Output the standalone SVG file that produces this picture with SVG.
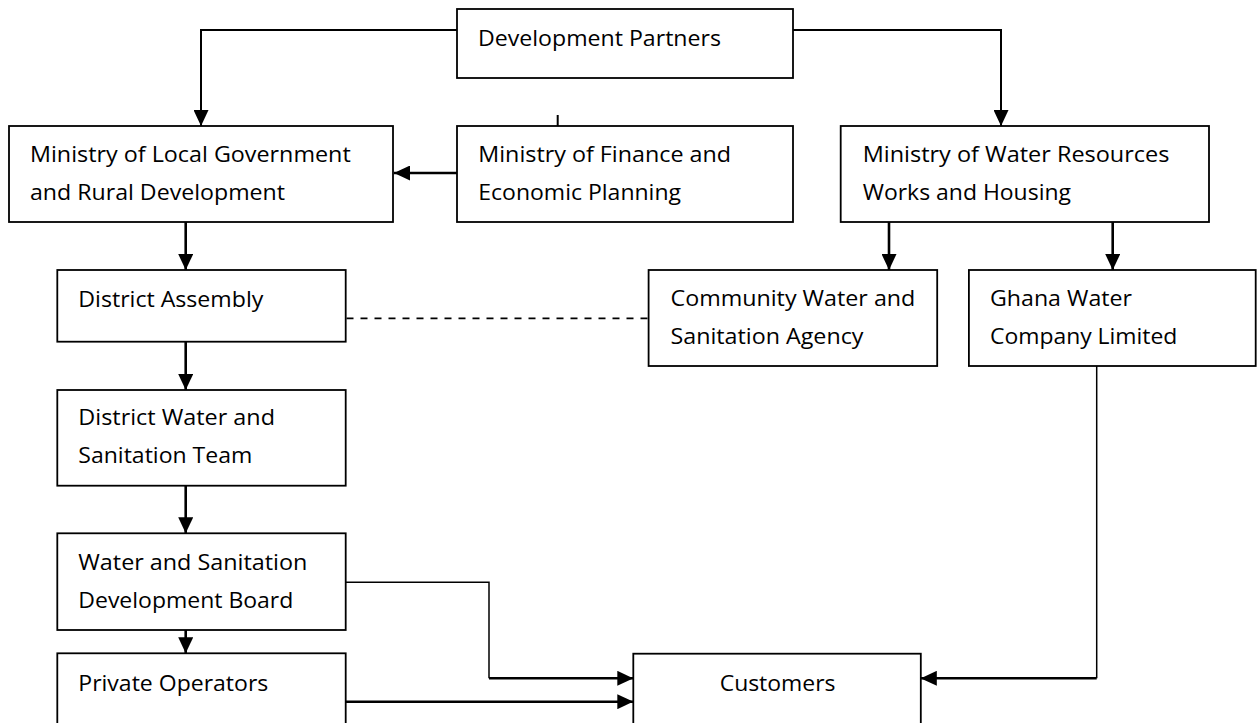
<svg xmlns="http://www.w3.org/2000/svg" width="1257" height="723" viewBox="0 0 1257 723">
  <style>
    .box { fill: #ffffff; stroke: #000000; stroke-width: 1.8; }
    .lbl { font-family: "Open Sans", "Liberation Sans", sans-serif; font-size: 21.5px; fill: #000000; }
    .wire { fill: none; stroke: #000000; stroke-width: 2; }
    .thin { fill: none; stroke: #000000; stroke-width: 1.5; }
    .heavy { fill: none; stroke: #000000; stroke-width: 2.6; }
    .dash { fill: none; stroke: #000000; stroke-width: 1.8; stroke-dasharray: 7 7; }
  </style>
  <defs>
    <marker id="arrow" markerUnits="userSpaceOnUse" markerWidth="16" markerHeight="15" refX="16" refY="7.5" orient="auto">
      <path d="M0,0 L16,7.5 L0,15 z" fill="#000000"/>
    </marker>
  </defs>
  <rect width="1257" height="723" fill="#ffffff"/>

  <!-- connectors -->
  <g id="connectors">
    <path class="wire" d="M457,30 H201 V126" marker-end="url(#arrow)"/>
    <path class="wire" d="M793,30 H1001 V126" marker-end="url(#arrow)"/>
    <path class="wire" d="M557.7,115 V126"/>
    <path class="heavy" d="M457,173 H394" marker-end="url(#arrow)"/>
    <path class="heavy" d="M185.7,222 V270" marker-end="url(#arrow)"/>
    <path class="heavy" d="M889,222 V270" marker-end="url(#arrow)"/>
    <path class="heavy" d="M1112.7,222 V270" marker-end="url(#arrow)"/>
    <path class="dash" d="M346.5,318.3 H649"/>
    <path class="heavy" d="M185.7,341.7 V390" marker-end="url(#arrow)"/>
    <path class="heavy" d="M185.7,485.7 V533.3" marker-end="url(#arrow)"/>
    <path class="heavy" d="M185.7,630 V653.3" marker-end="url(#arrow)"/>
    <path class="thin" d="M345.7,582.3 H489 V678.3"/>
    <path class="heavy" d="M489,678.3 H633.3" marker-end="url(#arrow)"/>
    <path class="heavy" d="M345.7,701.7 H633.3" marker-end="url(#arrow)"/>
    <path class="thin" d="M1096.7,366 V678.3"/>
    <path class="heavy" d="M1096.7,678.3 H920.8" marker-end="url(#arrow)"/>
  </g>

  <!-- nodes -->
  <g id="development-partners">
    <rect class="box" x="457" y="9" width="336" height="69"/>
    <text class="lbl" x="478" y="45.7" textLength="243" lengthAdjust="spacingAndGlyphs">Development Partners</text>
  </g>
  <g id="ministry-local-government">
    <rect class="box" x="9" y="126" width="384" height="96"/>
    <text class="lbl" x="30" y="161.7" textLength="320.7" lengthAdjust="spacingAndGlyphs">Ministry of Local Government</text>
    <text class="lbl" x="30" y="200" textLength="255" lengthAdjust="spacingAndGlyphs">and Rural Development</text>
  </g>
  <g id="ministry-finance">
    <rect class="box" x="457" y="126" width="336" height="96"/>
    <text class="lbl" x="478.3" y="161.7" textLength="252.7" lengthAdjust="spacingAndGlyphs">Ministry of Finance and</text>
    <text class="lbl" x="478.3" y="200" textLength="202.7" lengthAdjust="spacingAndGlyphs">Economic Planning</text>
  </g>
  <g id="ministry-water-resources">
    <rect class="box" x="840.7" y="126" width="368.3" height="96"/>
    <text class="lbl" x="862.7" y="161.7" textLength="306.7" lengthAdjust="spacingAndGlyphs">Ministry of Water Resources</text>
    <text class="lbl" x="862.7" y="200" textLength="208.3" lengthAdjust="spacingAndGlyphs">Works and Housing</text>
  </g>
  <g id="district-assembly">
    <rect class="box" x="57.3" y="270" width="288.4" height="71.7"/>
    <text class="lbl" x="78.3" y="306.7" textLength="185" lengthAdjust="spacingAndGlyphs">District Assembly</text>
  </g>
  <g id="community-water-sanitation-agency">
    <rect class="box" x="648.6" y="270" width="288.6" height="96"/>
    <text class="lbl" x="670.5" y="305.7" textLength="244.8" lengthAdjust="spacingAndGlyphs">Community Water and</text>
    <text class="lbl" x="670.5" y="344" textLength="193" lengthAdjust="spacingAndGlyphs">Sanitation Agency</text>
  </g>
  <g id="ghana-water-company">
    <rect class="box" x="968.9" y="270" width="286.8" height="96"/>
    <text class="lbl" x="990" y="305.7" textLength="142" lengthAdjust="spacingAndGlyphs">Ghana Water</text>
    <text class="lbl" x="990" y="344" textLength="187.4" lengthAdjust="spacingAndGlyphs">Company Limited</text>
  </g>
  <g id="district-water-sanitation-team">
    <rect class="box" x="57.3" y="390" width="288.4" height="95.7"/>
    <text class="lbl" x="78.3" y="425" textLength="196.7" lengthAdjust="spacingAndGlyphs">District Water and</text>
    <text class="lbl" x="78.3" y="462.7" textLength="174" lengthAdjust="spacingAndGlyphs">Sanitation Team</text>
  </g>
  <g id="water-sanitation-board">
    <rect class="box" x="57.3" y="533.3" width="288.4" height="96.7"/>
    <text class="lbl" x="78.3" y="570" textLength="229" lengthAdjust="spacingAndGlyphs">Water and Sanitation</text>
    <text class="lbl" x="78.3" y="607.7" textLength="215" lengthAdjust="spacingAndGlyphs">Development Board</text>
  </g>
  <g id="private-operators">
    <rect class="box" x="57.3" y="653.3" width="288.4" height="90"/>
    <text class="lbl" x="78.3" y="690.7" textLength="190" lengthAdjust="spacingAndGlyphs">Private Operators</text>
  </g>
  <g id="customers">
    <rect class="box" x="633.3" y="653.7" width="287.5" height="90"/>
    <text class="lbl" x="777.6" y="690.7" text-anchor="middle" textLength="115.8" lengthAdjust="spacingAndGlyphs">Customers</text>
  </g>
</svg>
